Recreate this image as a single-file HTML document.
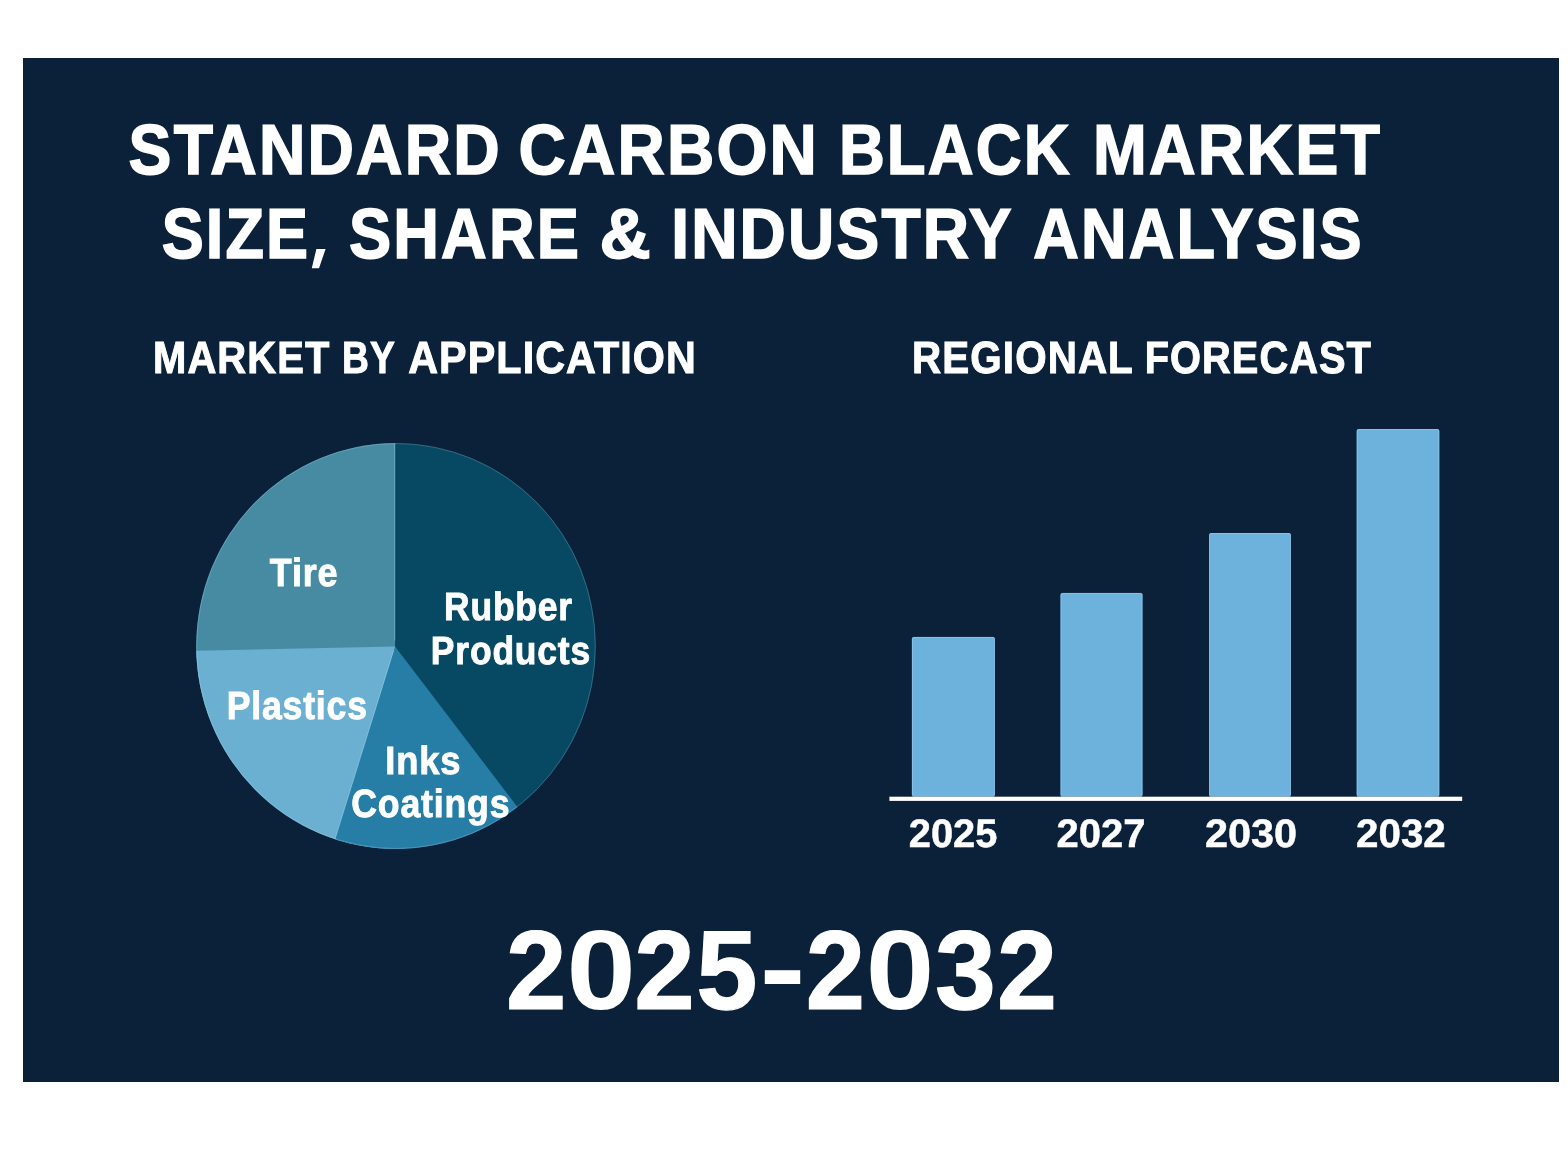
<!DOCTYPE html>
<html lang="en">
<head>
<meta charset="utf-8">
<title>Standard Carbon Black Market Size, Share &amp; Industry Analysis 2025-2032</title>
<style>
  html, body { margin: 0; padding: 0; background: #ffffff; }
  body { width: 1568px; height: 1176px; overflow: hidden; position: relative;
         font-family: "Liberation Sans", sans-serif; }
  svg { position: absolute; left: 0; top: 0; display: block; }
  text { font-family: "Liberation Sans", sans-serif; font-weight: bold; fill: #ffffff;
         stroke: #ffffff; stroke-linejoin: miter; text-rendering: geometricPrecision; }
</style>
</head>
<body>
<svg width="1568" height="1176" viewBox="0 0 1568 1176">
  <defs>
    <clipPath id="pieclip"><ellipse cx="396.0" cy="646.0" rx="199.8" ry="203.0"/></clipPath>
  </defs>
  <!-- dark panel -->
  <rect x="23" y="58" width="1536" height="1024" fill="#0b213a"/>

  <!-- main title -->
  <g id="title">
  <text transform="translate(128.59 174.00) scale(0.9092 1)" font-size="70.7" stroke-width="1.6" letter-spacing="2.4">STANDARD</text>
  <text transform="translate(518.46 174.00) scale(0.9260 1)" font-size="70.7" stroke-width="1.6" letter-spacing="2.4">CARBON</text>
  <text transform="translate(838.90 174.00) scale(0.8971 1)" font-size="70.7" stroke-width="1.6" letter-spacing="2.4">BLACK</text>
  <text transform="translate(1092.94 174.00) scale(0.9133 1)" font-size="70.7" stroke-width="1.6" letter-spacing="2.4">MARKET</text>
  <text transform="translate(161.71 258.00) scale(0.8910 1)" font-size="70.7" stroke-width="1.6" letter-spacing="2.4">SIZE</text>
  <text transform="translate(348.91 258.00) scale(0.8948 1)" font-size="70.7" stroke-width="1.6" letter-spacing="2.4">SHARE</text>
  <text transform="translate(599.38 258.00) scale(1.0026 1)" font-size="70.7" stroke-width="1.6" letter-spacing="2.4">&amp;</text>
  <text transform="translate(671.17 258.00) scale(0.9065 1)" font-size="70.7" stroke-width="1.6" letter-spacing="2.4">INDUSTRY</text>
  <text transform="translate(1033.22 258.00) scale(0.8928 1)" font-size="70.7" stroke-width="1.6" letter-spacing="2.4">ANALYSIS</text>
  <polygon points="316.4,248.9 325.6,248.9 319.0,268.2 311.8,268.2" fill="#ffffff"/>
  </g>

  <!-- section headings -->
  <g id="headings" style="filter:opacity(1)">
  <text transform="translate(153.05 373.00) scale(0.8862 1)" font-size="45.1" stroke-width="1.0" letter-spacing="1.2">MARKET</text>
  <text transform="translate(342.09 373.00) scale(0.8259 1)" font-size="45.1" stroke-width="1.0" letter-spacing="1.2">BY</text>
  <text transform="translate(408.19 373.00) scale(0.9151 1)" font-size="45.1" stroke-width="1.0" letter-spacing="1.2">APPLICATION</text>
  <text transform="translate(912.12 373.00) scale(0.8956 1)" font-size="45.1" stroke-width="1.0" letter-spacing="1.2">REGIONAL</text>
  <text transform="translate(1144.66 373.00) scale(0.8820 1)" font-size="45.1" stroke-width="1.0" letter-spacing="1.2">FORECAST</text>
  </g>

  <!-- pie chart: market by application -->
  <g id="pie">
  <ellipse cx="396.0" cy="646.0" rx="199.8" ry="203.0" fill="#074863"/>
  <g clip-path="url(#pieclip)">
  <polygon points="395.1,646.4 3.7,798.6 -20.0,582.5 67.5,383.5 242.9,255.0 395.1,226.4" fill="#478ba3"/>
  <polygon points="395.1,646.4 414.9,1065.9 202.5,1019.6 41.7,873.3 -24.4,666.2 -24.8,655.6" fill="#6bafd1"/>
  <polygon points="395.1,646.4 649.6,980.5 448.5,1063.0 270.2,1047.4" fill="#267da5"/>
  </g>
  <line x1="394.7" y1="444.0" x2="394.7" y2="640.4" stroke="#8fc6da" stroke-opacity="0.55" stroke-width="1"/>
  <line x1="393.6" y1="650.4" x2="334.1" y2="842.1" stroke="#9fd8f4" stroke-opacity="0.5" stroke-width="1" clip-path="url(#pieclip)"/>
  <ellipse cx="396.0" cy="646.0" rx="199.3" ry="202.5" fill="none" stroke="#cfeaf6" stroke-opacity="0.22" stroke-width="1"/>
  </g>
  <g id="pie-labels" style="filter:opacity(1)">
  <text transform="translate(269.84 586.00) scale(0.9104 1)" font-size="39.4" stroke-width="0.9" letter-spacing="0.9">Tire</text>
  <text transform="translate(444.06 620.00) scale(0.8992 1)" font-size="39.4" stroke-width="0.9" letter-spacing="0.9">Rubber</text>
  <text transform="translate(430.86 664.00) scale(0.8999 1)" font-size="39.4" stroke-width="0.9" letter-spacing="0.9">Products</text>
  <text transform="translate(226.65 719.00) scale(0.9044 1)" font-size="39.4" stroke-width="0.9" letter-spacing="0.9">Plastics</text>
  <text transform="translate(385.32 774.00) scale(0.9214 1)" font-size="39.4" stroke-width="0.9" letter-spacing="0.9">Inks</text>
  <text transform="translate(351.27 817.00) scale(0.9050 1)" font-size="39.4" stroke-width="0.9" letter-spacing="0.9">Coatings</text>
  </g>

  <!-- bar chart: regional forecast -->
  <g id="bars">
  <rect x="911.9" y="636.9" width="83.0" height="159.5" rx="1.8" fill="#6db2dc"/>
  <rect x="912.4" y="637.4" width="82.0" height="159.5" rx="1.5" fill="none" stroke="#9fd2ee" stroke-opacity="0.55" stroke-width="1"/>
  <rect x="1060.5" y="592.9" width="82.0" height="203.5" rx="1.8" fill="#6db2dc"/>
  <rect x="1061.0" y="593.4" width="81.0" height="203.5" rx="1.5" fill="none" stroke="#9fd2ee" stroke-opacity="0.55" stroke-width="1"/>
  <rect x="1209.1" y="533.1" width="81.8" height="263.3" rx="1.8" fill="#6db2dc"/>
  <rect x="1209.6" y="533.6" width="80.8" height="263.3" rx="1.5" fill="none" stroke="#9fd2ee" stroke-opacity="0.55" stroke-width="1"/>
  <rect x="1356.7" y="429.1" width="82.6" height="367.3" rx="1.8" fill="#6db2dc"/>
  <rect x="1357.2" y="429.6" width="81.6" height="367.3" rx="1.5" fill="none" stroke="#9fd2ee" stroke-opacity="0.55" stroke-width="1"/>
  </g>
  <rect x="889.4" y="796.7" width="572.8" height="4.2" fill="#ffffff"/>
  <g id="years" style="filter:opacity(1)">
  <text transform="translate(908.81 847.00) scale(0.9985 1)" font-size="39.9" stroke-width="0.5">2025</text>
  <text transform="translate(1056.51 847.00) scale(1.0021 1)" font-size="39.9" stroke-width="0.5">2027</text>
  <text transform="translate(1204.88 847.00) scale(1.0381 1)" font-size="39.9" stroke-width="0.5">2030</text>
  <text transform="translate(1356.10 847.00) scale(1.0107 1)" font-size="39.9" stroke-width="0.5">2032</text>
  </g>

  <!-- period -->
  <g id="period" aria-label="2025-2032">
  <text transform="translate(506.00 1009.00) scale(0.9668 1)" font-size="112.4" stroke-width="1.2">2</text>
  <text transform="translate(566.42 1009.00) scale(1.1022 1)" font-size="113.0" stroke-width="0">0</text>
  <text transform="translate(634.20 1009.00) scale(0.9668 1)" font-size="112.4" stroke-width="1.2">2</text>
  <text transform="translate(696.33 1009.00) scale(0.9782 1)" font-size="112.4" stroke-width="1.2">5</text>
  <text transform="translate(805.76 1009.00) scale(0.9487 1)" font-size="112.4" stroke-width="1.2">2</text>
  <text transform="translate(865.77 1009.00) scale(1.0910 1)" font-size="113.0" stroke-width="0">0</text>
  <text transform="translate(935.01 1009.00) scale(0.9727 1)" font-size="112.4" stroke-width="1.2">3</text>
  <text transform="translate(997.02 1009.00) scale(0.9595 1)" font-size="112.4" stroke-width="1.2">2</text>
  <rect x="764.8" y="970.2" width="35.4" height="13.8" fill="#ffffff"/>
  </g>
</svg>
</body>
</html>
